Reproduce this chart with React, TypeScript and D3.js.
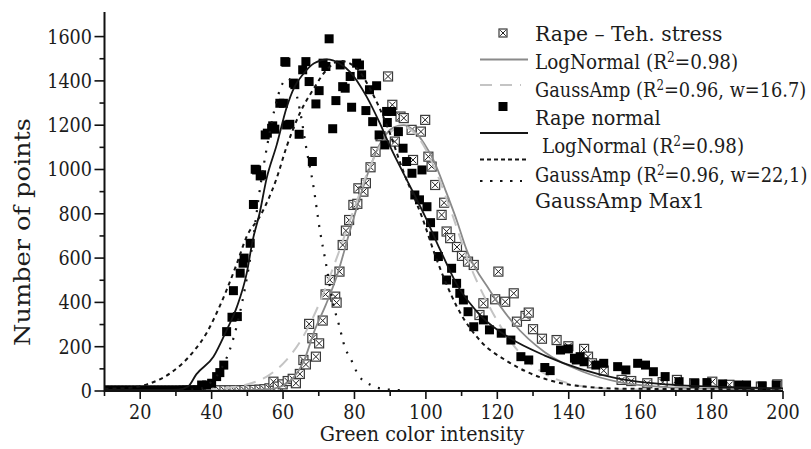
import React from 'react';
import * as d3 from 'd3';

type P = [number, number];

const W = 811;
const H = 449;

const xMajorTicks = [20, 40, 60, 80, 100, 120, 140, 160, 180, 200];
const xMinorTicks = [10, 30, 50, 70, 90, 110, 130, 150, 170, 190];
const yMajorTicks = [0, 200, 400, 600, 800, 1000, 1200, 1400, 1600];
const yMinorTicks = [100, 300, 500, 700, 900, 1100, 1300, 1500];

// Rape – Teh. stress (crossed squares)
const tehStress: P[] = [
  [10, 2], [11.4, 2], [12.8, 2], [14.2, 2], [15.6, 2], [17, 2], [18.4, 2], [19.8, 2], [21.2, 2], [22.6, 2],
  [24, 2], [25.4, 2], [26.8, 2], [28.2, 2], [29.6, 2], [31, 2], [32.4, 2], [33.8, 2], [35.2, 2], [36.6, 2],
  [38, 2], [39.4, 2], [40.8, 3], [42.2, 3], [43.6, 3], [45, 3], [46.4, 3], [47.8, 3], [49.2, 4], [50.6, 4],
  [52, 5], [53.4, 6], [54.8, 8], [56.2, 12], [57.3, 42], [58.5, 20], [59.9, 30], [61.3, 45], [62.7, 55],
  [63.6, 35], [64.7, 77], [65.7, 140], [66.4, 120], [67.3, 303], [68.2, 238], [69.2, 155], [70.1, 215],
  [71.1, 318], [71.9, 436], [73.1, 501], [74.6, 426], [75, 399], [75.8, 539], [76.7, 659], [77.6, 724],
  [78.5, 772], [79.7, 840], [80.8, 845], [81.1, 915], [82.5, 900], [83.2, 938], [84.5, 1010], [85.9, 1080],
  [87.3, 1150], [89.4, 1420], [90.6, 1292], [91.3, 1126], [92.9, 1239], [93.8, 1232], [96, 1179],
  [96.4, 1043], [98.6, 1171], [99.8, 1224], [100.7, 1058], [101.6, 1013], [102.6, 930], [104.4, 795],
  [105.1, 850], [105.8, 720], [106.8, 690], [108.7, 650], [110.1, 610], [111.8, 584], [113.4, 569],
  [115, 343], [116.1, 396], [119.4, 414], [120.3, 539], [122.2, 403], [124.6, 441], [125.5, 313],
  [127.9, 339], [128.8, 354], [130, 279], [132.5, 236], [136.6, 230], [139.9, 202], [144.3, 190],
  [145.4, 155], [146.5, 125], [149.8, 92], [154.8, 50], [157.5, 45], [162, 35], [166.3, 40], [170.3, 50],
  [175.1, 35], [180.2, 42], [185, 28], [189.4, 22], [193.8, 20], [198.4, 30],
];

// Rape normal (filled squares)
const rapeNormal: P[] = [
  [10, 3], [11, 3], [12, 3], [13, 3], [14, 3], [15, 3], [16, 3], [17, 3], [18, 3], [19, 3],
  [20, 3], [21, 3], [22, 3], [23, 3], [24, 3], [25, 3], [26, 3], [27, 3], [28, 3], [29, 3],
  [30, 3], [31, 3], [32, 4], [33, 4], [34, 4], [35, 4], [36, 5],
  [37.2, 27], [38.6, 27], [40, 35], [41.4, 65], [42.3, 83], [43.4, 117], [44.2, 268], [45.7, 333],
  [47.2, 336], [46.1, 453], [48, 532], [48.8, 577], [49.1, 600], [50.8, 667], [51.7, 842],
  [52.2, 1001], [52.6, 998], [53.6, 971], [54, 976], [55, 1156], [55.6, 1164], [56.8, 1186],
  [57.1, 1197], [57.7, 1182], [59.1, 1299], [60.1, 1299], [60.5, 1487], [60.8, 1484], [61, 1201],
  [61.9, 1204], [62.9, 1390], [63.3, 1383], [64.5, 1159], [65.5, 1450], [66.4, 1487], [67.3, 1397],
  [68.2, 1036], [69.2, 1296], [70.1, 1356], [71.2, 1480], [72, 1465], [72.9, 1590], [73.9, 1184],
  [74.8, 1311], [76, 1472], [76.7, 1374], [77.4, 1367], [78.8, 1420], [79.2, 1281], [80.6, 1480],
  [81.4, 1472], [82, 1427], [83.2, 1266], [84.2, 1360], [85.1, 1216], [86.2, 1378], [86.9, 1156],
  [88.5, 1111], [89, 1262], [89.2, 1212], [90.4, 1262], [92.3, 1171], [93.6, 1096], [94.6, 1036],
  [96.1, 983], [96.9, 885], [98.2, 863], [98.9, 998], [100.3, 832], [101.3, 760], [102.2, 700],
  [103.5, 607], [105.8, 501], [107.2, 554], [108.6, 486], [109.5, 441], [110.5, 411], [111.8, 358],
  [113.4, 290], [116.1, 321], [117.8, 276], [121.1, 261], [123.8, 230], [126.6, 155], [128.8, 140],
  [133.3, 106], [134.8, 92], [137.7, 185], [139.9, 190], [141.6, 148], [142.1, 140], [143.2, 155],
  [144.3, 132], [147.6, 117], [149.8, 125], [153.7, 110], [156, 95], [159.3, 125], [161.5, 117],
  [163.7, 87], [167, 65], [170.9, 42], [175.3, 35], [178.7, 38], [183.1, 32], [187.6, 27], [189.8, 27],
  [194.2, 23], [198.1, 27],
];

// Fit curves
const tehLogNormal: P[] = [
  [10, 3], [47.3, 3], [55.5, 8], [60.1, 25], [62.9, 60], [65.7, 130], [68.9, 276], [72, 390], [75, 516],
  [78.8, 727], [83.1, 953], [87.3, 1120], [91, 1190], [93.8, 1200], [96.4, 1178], [99.4, 1120],
  [102.1, 1043], [105.8, 893], [108.6, 772], [111.4, 637], [117.8, 456], [124.5, 306], [133.3, 175],
  [143.8, 88], [154.8, 38], [165.2, 20], [183.9, 9], [200, 5],
];

const tehGauss: P[] = [
  [10, 5], [37.6, 7], [46.9, 19], [51.5, 37], [56.2, 73], [60.8, 137], [65.5, 242], [70.1, 393],
  [74.7, 586], [79.4, 800], [84, 1000], [88.7, 1143], [93.3, 1195], [98, 1143], [102.6, 1000],
  [107.3, 800], [111.9, 586], [117.4, 393], [122.9, 242], [128.4, 137], [133.9, 73], [139.4, 37],
  [144.9, 19], [155.9, 7], [200, 5],
];

const normLogNormal: P[] = [
  [10, 5], [24.1, 5], [30.6, 6], [33.4, 20], [35.7, 75], [40.5, 155], [44.2, 275], [47.1, 381],
  [49.8, 530], [51.5, 680], [53.4, 800], [55.4, 960], [58.2, 1110], [61, 1280], [63.1, 1370],
  [65.6, 1430], [68.7, 1480], [72.4, 1497], [75.7, 1480], [78.8, 1440], [83.4, 1329], [87.1, 1209],
  [90.1, 1100], [93.8, 980], [99.8, 787], [104, 637], [108.7, 480], [115.6, 336], [123.4, 240],
  [133.3, 160], [143.2, 100], [154.2, 55], [167.4, 30], [183.9, 18], [200, 12],
];

const normGauss: P[] = [
  [10, 10], [16.8, 14], [21.9, 30], [28.4, 80], [34.9, 178], [38.6, 262], [41.4, 352], [44.2, 456],
  [47.1, 577], [49.8, 697], [53.6, 790], [58.2, 960], [61, 1103], [64.7, 1254], [68.4, 1360],
  [72.2, 1450], [76.1, 1490], [80.6, 1457], [84.5, 1360], [89.2, 1194], [93.8, 986], [98.8, 790],
  [103.1, 590], [108.7, 380], [115.6, 220], [122.2, 140], [127.8, 90], [133.3, 55], [138.8, 32],
  [144.3, 20], [156.5, 10], [200, 8],
];

const normGaussMax1: P[] = [
  [28.7, 2], [36.9, 11], [39.9, 41], [42.7, 100], [45.5, 206], [48.3, 381], [51.1, 629], [53.6, 920],
  [55.7, 1120], [57.6, 1270], [59.6, 1380], [61.3, 1410], [63.2, 1370], [64.7, 1269], [66.6, 1088],
  [68.4, 935], [70.3, 727], [72, 577], [74, 396], [75.7, 296], [77.4, 193], [78.8, 150], [81.1, 72],
  [84.6, 27], [88.5, 8], [93.8, 3],
];

const FONT = "'DejaVu Serif', serif";
const TXT = '#1c1c1c';

function Crossed({ cx, cy, s = 9 }: { cx: number; cy: number; s?: number }) {
  const h = s / 2;
  const k = h - 1.2;
  return (
    <g transform={`translate(${cx},${cy})`}>
      <rect x={-h} y={-h} width={s} height={s} fill="#fff" stroke="#3a3a3a" strokeWidth={1.2} />
      <path d={`M${-k},${-k}L${k},${k}M${k},${-k}L${-k},${k}`} stroke="#222" strokeWidth={1} />
    </g>
  );
}

export default function App() {
  const x = d3.scaleLinear().domain([10, 200]).range([104.5, 783]);
  const y = d3.scaleLinear().domain([0, 1711]).range([391, 12]);
  const line = d3
    .line<P>()
    .x((d) => x(d[0]))
    .y((d) => y(d[1]))
    .curve(d3.curveMonotoneX);

  const S = 9;

  const legendText = (tx: number, ty: number, parts: React.ReactNode, sx = 1) => (
    <g transform={`translate(${tx},${ty}) scale(${sx},1)`}>
      <text x={0} y={0} fontSize={21} fill={TXT} fontFamily={FONT}>
        {parts}
      </text>
    </g>
  );

  const r2 = (before: string, after: string) => (
    <>
      {before}
      <tspan dy={-7} fontSize={14}>2</tspan>
      <tspan dy={7}>{after}</tspan>
    </>
  );

  return (
    <svg
      width={W}
      height={H}
      viewBox={`0 0 ${W} ${H}`}
      style={{ position: 'absolute', left: 0, top: 0, background: '#fff' }}
    >
      <defs>
        <clipPath id="plotClip">
          <rect x={104} y={0} width={681} height={391} />
        </clipPath>
      </defs>
      <rect x={0} y={0} width={W} height={H} fill="#fff" />

      <g clipPath="url(#plotClip)">
        {tehStress.map((d, i) => (
          <Crossed key={'t' + i} cx={x(d[0])} cy={y(d[1])} s={S} />
        ))}
        <path d={line(tehLogNormal) || ''} fill="none" stroke="#8a8a8a" strokeWidth={1.8} />
        <path d={line(tehGauss) || ''} fill="none" stroke="#c4c4c4" strokeWidth={2} strokeDasharray="12,8" />

        {rapeNormal.map((d, i) => (
          <rect key={'n' + i} x={x(d[0]) - S / 2} y={y(d[1]) - S / 2} width={S} height={S} fill="#000" />
        ))}
        <path d={line(normLogNormal) || ''} fill="none" stroke="#151515" strokeWidth={1.8} />
        <path d={line(normGauss) || ''} fill="none" stroke="#151515" strokeWidth={2} strokeDasharray="4,4" />
        <path d={line(normGaussMax1) || ''} fill="none" stroke="#151515" strokeWidth={2.2} strokeDasharray="2,8" />
      </g>

      {/* Axes */}
      <line x1={104.5} y1={391} x2={783} y2={391} stroke="#111" strokeWidth={2} />
      <line x1={104.5} y1={12} x2={104.5} y2={392} stroke="#111" strokeWidth={2} />
      {xMajorTicks.map((t) => (
        <g key={'xM' + t}>
          <line x1={x(t)} x2={x(t)} y1={391} y2={399} stroke="#111" strokeWidth={1.6} />
          <g transform={`translate(${x(t)},419) scale(0.88,1)`}>
            <text x={0} y={0} textAnchor="middle" fontSize={20} fill={TXT} fontFamily={FONT}>
              {t}
            </text>
          </g>
        </g>
      ))}
      {xMinorTicks.map((t) => (
        <line key={'xm' + t} x1={x(t)} x2={x(t)} y1={391} y2={396} stroke="#111" strokeWidth={1.6} />
      ))}
      {yMajorTicks.map((t) => (
        <g key={'yM' + t}>
          <line x1={94.5} x2={104.5} y1={y(t)} y2={y(t)} stroke="#111" strokeWidth={1.6} />
          <g transform={`translate(92,${y(t) + 7}) scale(0.88,1)`}>
            <text x={0} y={0} textAnchor="end" fontSize={20} fill={TXT} fontFamily={FONT}>
              {t}
            </text>
          </g>
        </g>
      ))}
      {yMinorTicks.map((t) => (
        <line key={'ym' + t} x1={99.5} x2={104.5} y1={y(t)} y2={y(t)} stroke="#111" strokeWidth={1.6} />
      ))}

      {/* Axis titles */}
      <g transform="translate(422,441) scale(0.91,1)">
        <text x={0} y={0} textAnchor="middle" fontSize={21} fill={TXT} fontFamily={FONT}>
          Green color intensity
        </text>
      </g>
      <text
        transform="translate(30,232) rotate(-90)"
        textAnchor="middle"
        fontSize={22}
        fill={TXT}
        fontFamily={FONT}
        textLength={228}
        lengthAdjust="spacingAndGlyphs"
      >
        Number of points
      </text>

      {/* Legend */}
      <Crossed cx={503} cy={33} s={8} />
      {legendText(535, 41, 'Rape \u2013 Teh. stress', 0.97)}
      <line x1={480} x2={528} y1={59.5} y2={59.5} stroke="#8a8a8a" strokeWidth={1.8} />
      {legendText(535, 68.5, r2('LogNormal (R', '=0.98)'), 0.875)}
      <line x1={480} x2={521} y1={85} y2={85} stroke="#c4c4c4" strokeWidth={2} strokeDasharray="12,8" />
      {legendText(535, 96.5, r2('GaussAmp (R', '=0.96, w=16.7)'), 0.846)}
      <rect x={503 - 4.5} y={106.5 - 4.5} width={9} height={9} fill="#000" />
      {legendText(535, 125, 'Rape normal', 0.92)}
      <line x1={480} x2={528} y1={133} y2={133} stroke="#151515" strokeWidth={1.8} />
      {legendText(542, 153, r2('LogNormal (R', '=0.98)'), 0.87)}
      <line x1={480} x2={528} y1={159.5} y2={159.5} stroke="#151515" strokeWidth={1.8} strokeDasharray="4,3" />
      {legendText(535, 181.5, r2('GaussAmp (R', '=0.96, w=22,1)'), 0.85)}
      <line x1={480} x2={522} y1={181} y2={181} stroke="#151515" strokeWidth={2.2} strokeDasharray="2.5,7.5" />
      {legendText(535, 207.5, 'GaussAmp Max1', 0.95)}
    </svg>
  );
}
